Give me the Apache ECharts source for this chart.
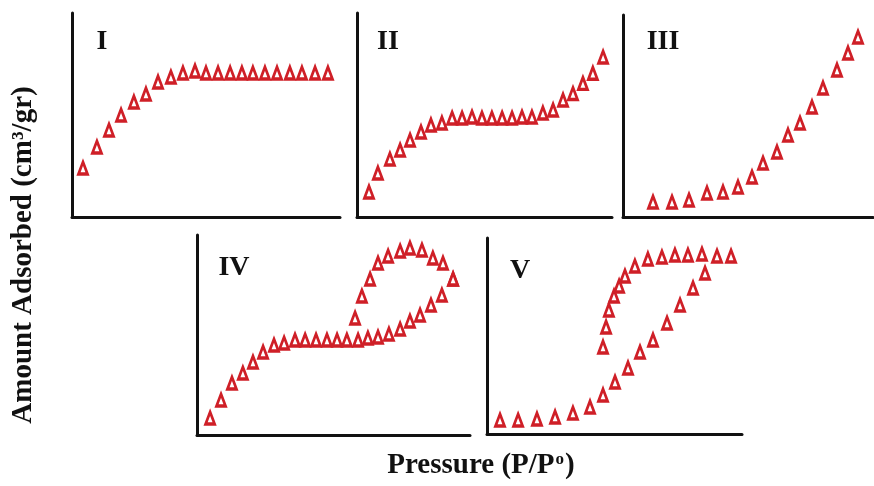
<!DOCTYPE html>
<html>
<head>
<meta charset="utf-8">
<script src="https://cdn.jsdelivr.net/npm/echarts@6/dist/echarts.min.js"></script>
<style>
html,body{margin:0;padding:0;background:#fff;}
#chart{width:874px;height:486px;}
</style>
</head>
<body>
<div id="chart"></div>
<script>
// Panel labels and titles
const panelLabels = ['I', 'II', 'III', 'IV', 'V'];
const yTitle = 'Amount Adsorbed (cm³/gr)';
const xTitle = 'Pressure (P/P';

// Type I
const pressureI = [0.041, 0.093, 0.138, 0.183, 0.231, 0.276, 0.321, 0.369, 0.414, 0.459, 0.500, 0.545, 0.590, 0.634, 0.675, 0.720, 0.765, 0.813, 0.858, 0.907, 0.955];
const adsorbedI = [24.0, 34.3, 42.6, 50.0, 56.4, 60.3, 66.2, 68.6, 70.6, 71.6, 70.6, 70.6, 70.6, 70.6, 70.6, 70.6, 70.6, 70.6, 70.6, 70.6, 70.6];

// Type II
const pressureII = [0.047, 0.082, 0.129, 0.169, 0.208, 0.251, 0.290, 0.333, 0.373, 0.412, 0.451, 0.490, 0.529, 0.569, 0.608, 0.647, 0.686, 0.729, 0.769, 0.808, 0.847, 0.886, 0.925, 0.965];
const adsorbedII = [12.3, 21.6, 28.4, 32.8, 37.7, 41.7, 45.1, 46.1, 48.5, 48.5, 49.0, 48.5, 48.5, 48.5, 48.5, 49.0, 49.0, 51.0, 52.5, 57.4, 60.5, 65.5, 70.5, 78.4];

// Type III
const pressureIII = [0.120, 0.196, 0.264, 0.336, 0.400, 0.460, 0.516, 0.560, 0.616, 0.660, 0.708, 0.756, 0.800, 0.856, 0.900, 0.940];
const adsorbedIII = [7.4, 7.4, 8.4, 11.9, 12.4, 14.9, 19.8, 26.7, 32.2, 40.6, 46.5, 54.5, 63.9, 72.8, 81.2, 89.1];

// Type IV (adsorption + desorption branches)
const pressureIVads = [0.048, 0.088, 0.128, 0.168, 0.205, 0.242, 0.282, 0.319, 0.359, 0.396, 0.436, 0.476, 0.513, 0.549, 0.590, 0.626, 0.663, 0.703, 0.744, 0.780, 0.817, 0.857, 0.897, 0.938];
const adsorbedIVads = [8.5, 17.5, 26.0, 31.0, 36.5, 41.5, 45.0, 46.0, 47.5, 47.5, 47.5, 47.5, 47.5, 47.5, 47.5, 48.5, 49.0, 50.5, 53.0, 57.0, 60.0, 65.0, 70.0, 78.0];
const pressureIVdes = [0.938, 0.901, 0.864, 0.824, 0.780, 0.744, 0.700, 0.663, 0.634, 0.604, 0.579];
const adsorbedIVdes = [78.0, 86.0, 88.5, 92.5, 93.5, 92.0, 89.5, 86.0, 78.0, 69.5, 58.5];

// Type V (adsorption + desorption branches)
const pressureVads = [0.051, 0.122, 0.196, 0.267, 0.337, 0.404, 0.455, 0.502, 0.553, 0.600, 0.651, 0.706, 0.757, 0.808, 0.855];
const adsorbedVads = [7.1, 7.1, 7.7, 8.7, 10.7, 13.8, 19.9, 26.5, 33.7, 41.8, 48.0, 56.6, 65.8, 74.5, 82.1];
const pressureVdes = [0.957, 0.902, 0.843, 0.788, 0.737, 0.686, 0.631, 0.580, 0.541, 0.518, 0.498, 0.478, 0.467, 0.455];
const adsorbedVdes = [90.8, 90.8, 91.8, 91.3, 91.3, 90.3, 89.3, 85.7, 80.6, 75.5, 70.4, 63.3, 54.6, 44.4];

const RED = '#cf1f27';
const FONT = "'Liberation Serif', 'Times New Roman', serif";

const grids = [
  {left: 72, top: 13, width: 268, height: 204},
  {left: 357, top: 13, width: 255, height: 204},
  {left: 623, top: 15, width: 250, height: 202},
  {left: 197, top: 235, width: 273, height: 200},
  {left: 487, top: 238, width: 255, height: 196}
];
const labelPos = [[102, 42], [388, 42], [663, 42], [234, 268], [520, 271]];

function zip(xs, ys) { return xs.map((x, i) => [x, ys[i]]); }

const seriesData = [
  [zip(pressureI, adsorbedI)],
  [zip(pressureII, adsorbedII)],
  [zip(pressureIII, adsorbedIII)],
  [zip(pressureIVads, adsorbedIVads), zip(pressureIVdes, adsorbedIVdes)],
  [zip(pressureVads, adsorbedVads), zip(pressureVdes, adsorbedVdes)]
];

const axisLine = {show: true, onZero: false, lineStyle: {color: '#111', width: 3}};
const xAxes = grids.map((g, i) => ({
  type: 'value', gridIndex: i, min: 0, max: 1,
  axisLine: axisLine, axisTick: {show: false}, axisLabel: {show: false}, splitLine: {show: false}
}));
const yAxes = grids.map((g, i) => ({
  type: 'value', gridIndex: i, min: 0, max: 100,
  axisLine: axisLine, axisTick: {show: false}, axisLabel: {show: false}, splitLine: {show: false}
}));

const series = [];
seriesData.forEach((branches, i) => {
  branches.forEach(d => {
    series.push({
      type: 'scatter', xAxisIndex: i, yAxisIndex: i, data: d,
      symbol: 'triangle', symbolSize: [9, 12], clip: false,
      itemStyle: {color: '#fff', borderColor: RED, borderWidth: 3, opacity: 1},
      emphasis: {disabled: true}
    });
  });
});

const graphic = panelLabels.map((t, i) => ({
  type: 'text', x: labelPos[i][0], y: labelPos[i][1],
  style: {text: t, font: 'bold 28px ' + FONT, fill: '#111', textAlign: 'center', textVerticalAlign: 'middle'}
}));
graphic.push({
  type: 'text', x: 24, y: 255, rotation: Math.PI / 2,
  style: {text: yTitle, font: 'bold 29px ' + FONT, fill: '#111', textAlign: 'center', textVerticalAlign: 'middle'}
});
graphic.push({
  type: 'text', x: 481, y: 466,
  style: {
    text: '{m|' + xTitle + '}{s|o}{m|)}',
    textAlign: 'center', textVerticalAlign: 'middle',
    rich: {
      m: {fontWeight: 'bold', fontSize: 29, fontFamily: FONT, fill: '#111', color: '#111'},
      s: {fontWeight: 'bold', fontSize: 17, fontFamily: FONT, fill: '#111', color: '#111', verticalAlign: 'top', padding: [0, 1, 0, 1]}
    }
  }
});

const chart = echarts.init(document.getElementById('chart'));
chart.setOption({
  animation: false,
  backgroundColor: '#fff',
  grid: grids,
  xAxis: xAxes,
  yAxis: yAxes,
  series: series,
  graphic: graphic
});
</script>
</body>
</html>
